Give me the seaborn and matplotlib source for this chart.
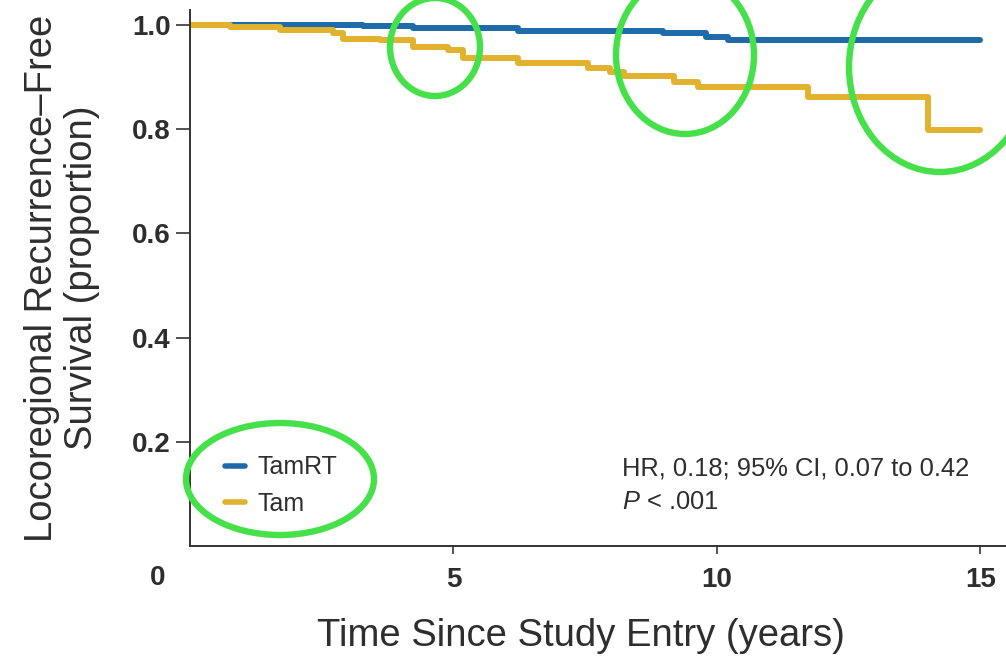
import numpy as np
import pandas as pd
import matplotlib
matplotlib.use("Agg")
import matplotlib.pyplot as plt
from matplotlib.patches import Ellipse
import seaborn as sns

# Kaplan-Meier stappen (jaren, proportie)
tamrt_time = [0.0, 3.29, 4.24, 6.22, 8.97, 9.79, 10.21, 15.0]
tamrt_surv = [1.000, 0.998, 0.994, 0.989, 0.984, 0.978, 0.972, 0.972]

tam_time = [0.0, 0.76, 1.71, 2.72, 2.91, 3.61, 4.24, 4.89, 5.19, 6.22,
            7.55, 7.98, 8.23, 9.18, 9.64, 11.73, 14.01, 15.0]
tam_surv = [1.000, 0.997, 0.990, 0.984, 0.974, 0.971, 0.958, 0.952, 0.937, 0.927,
            0.917, 0.910, 0.902, 0.890, 0.881, 0.862, 0.798, 0.798]

groups = ["TamRT", "Tam"]
colors = {"TamRT": "#1f6aa8", "Tam": "#e0b22e"}

x_ticks = [5, 10, 15]
y_ticks = [0.2, 0.4, 0.6, 0.8, 1.0]
y_ticklabels = ["0.2", "0.4", "0.6", "0.8", "1.0"]

stats_line1 = "HR, 0.18; 95% CI, 0.07 to 0.42"
stats_line2 = "$P$ < .001"

df = pd.concat([
    pd.DataFrame({"time": tamrt_time, "surv": tamrt_surv, "group": "TamRT"}),
    pd.DataFrame({"time": tam_time, "surv": tam_surv, "group": "Tam"}),
])

sns.set_theme(style="ticks")
plt.rcParams["font.family"] = ["Liberation Sans", "DejaVu Sans"]
plt.rcParams["mathtext.fontset"] = "custom"
plt.rcParams["mathtext.it"] = "Liberation Sans:italic"
plt.rcParams["mathtext.rm"] = "Liberation Sans"

text_col = "#2e2e2e"

fig = plt.figure(figsize=(10.06, 6.67), dpi=100)
ax = fig.add_axes([0.1889, 0.1814, 0.8111, 0.8036])

sns.lineplot(data=df, x="time", y="surv", hue="group", hue_order=groups,
             palette=colors, estimator=None, sort=False,
             drawstyle="steps-post", linewidth=4.3, ax=ax)

ax.set_xlim(0, 15.49)
ax.set_ylim(0, 1.029)
sns.despine(ax=ax)
for side in ["left", "bottom"]:
    ax.spines[side].set_color("#333333")
    ax.spines[side].set_linewidth(1.4)

ax.set_xticks(x_ticks)
ax.set_xticklabels([str(t) for t in x_ticks])
ax.set_yticks(y_ticks)
ax.set_yticklabels(y_ticklabels)
ax.tick_params(axis="y", length=10, width=1.2, color="#333333", pad=4,
               labelsize=20, labelcolor=text_col)
ax.tick_params(axis="x", length=6, width=1.2, color="#333333", pad=9,
               labelsize=20, labelcolor=text_col)
for lab in ax.get_xticklabels() + ax.get_yticklabels():
    lab.set_fontweight("bold")

ax.text(-0.040, -0.060, "0", transform=ax.transAxes, ha="center", va="center",
        fontsize=20, fontweight="bold", color=text_col)

ax.set_xlabel("Time Since Study Entry (years)", fontsize=27.5, color=text_col,
              ha="center", va="center")
ax.xaxis.set_label_coords(0.479, -0.168)
ax.set_ylabel("Locoregional Recurrence\u2013Free\nSurvival (proportion)",
              fontsize=27.5, color=text_col, ha="center", va="center",
              linespacing=1.15)
ax.yaxis.set_label_coords(-0.157, 0.5)

leg = ax.legend(loc="upper left", bbox_to_anchor=(0.043, 0.169), frameon=False,
                fontsize=18, handlelength=0.8, handletextpad=0.5,
                labelspacing=0.5, borderpad=0, borderaxespad=0)
for t in leg.get_texts():
    t.set_color(text_col)
for h in leg.get_lines():
    h.set_linewidth(4)

ax.text(0.530, (546 - 468) / 536, stats_line1, transform=ax.transAxes,
        ha="left", va="center", fontsize=18.4, color=text_col)
ax.text(0.530, (546 - 502) / 536, stats_line2, transform=ax.transAxes,
        ha="left", va="center", fontsize=18.4, color=text_col)

# groene markeringen (in pixels van de figuur)
H = 667
marks = [(435, 47, 90, 98), (685, 55, 138, 158), (940, 67, 182, 210), (280, 479, 188, 112)]
for cx, cy, w, h in marks:
    e = Ellipse((cx / 100, (H - cy) / 100), w / 100, h / 100,
                transform=fig.dpi_scale_trans, fill=False,
                edgecolor="#46e04a", linewidth=4.6, zorder=10, clip_on=False)
    fig.add_artist(e)

fig.savefig("out.png", dpi=100)
